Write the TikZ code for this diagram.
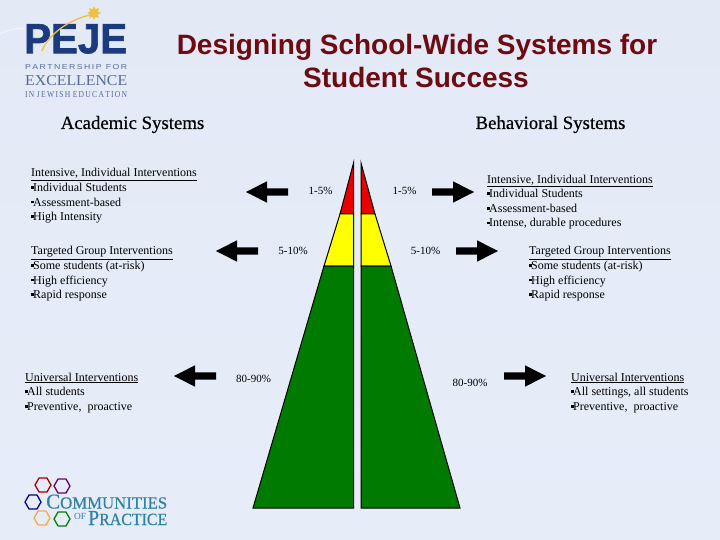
\documentclass[tikz,border=0pt]{standalone}
\usepackage{fontspec}
\setmainfont{Liberation Serif}
\newfontfamily\sansf{Liberation Sans}
\newfontfamily\heavysans[FakeBold=1.6]{Liberation Sans Bold}
\newfontfamily\semiserif[FakeBold=0.5]{Liberation Serif}
\usetikzlibrary{shapes.geometric}
\definecolor{bgtop}{HTML}{E3EAF6}
\definecolor{bgbot}{HTML}{E7ECF9}
\definecolor{titlered}{HTML}{6E0A12}
\definecolor{pejeblue}{HTML}{1C3A7E}
\definecolor{pejegold}{HTML}{F0C040}
\definecolor{copteal}{HTML}{2F80A8}
\definecolor{pgreen}{HTML}{007A00}
\definecolor{pyellow}{HTML}{FFFF00}
\definecolor{pred}{HTML}{E80000}
\newcommand{\blockarrow}[3]{% tail x, tip x, y
  \fill[black] ({#1},{#3-3.7}) -- ({(#1+#2)/2},{#3-3.7}) -- ({(#1+#2)/2},{#3-10.7}) -- (#2,#3)
    -- ({(#1+#2)/2},{#3+10.7}) -- ({(#1+#2)/2},{#3+3.7}) -- (#1,{#3+3.7}) -- cycle;}
\tikzset{
  x=1pt,y=-1pt,
  blocktext/.style={inner sep=0pt,anchor=north west,align=left,font=\fontsize{12}{14.6}\selectfont},
  heading/.style={inner sep=0pt,anchor=base,font=\semiserif\fontsize{18.8}{22}\selectfont},
  pct/.style={inner sep=0pt,font=\fontsize{11}{13}\selectfont},
  band/.style={draw=black,line width=1pt,line join=miter},
  ring/.style={regular polygon,regular polygon sides=6,draw,line width=1.3pt,minimum size=16pt,inner sep=0pt},
  logotext/.style={inner sep=0pt,anchor=west,text=pejeblue!75!white},
  coptext/.style={inner sep=0pt,anchor=base west,text=copteal},
  titletext/.style={inner sep=0pt,anchor=base,text=titlered,font=\sansf\bfseries\fontsize{28}{33}\selectfont}
}
\newcommand{\bul}{\raisebox{2.6pt}{\rule{2.6pt}{2.6pt}}\hspace{-0.6pt}}
\begin{document}
\begin{tikzpicture}
\useasboundingbox (0,0) rectangle (720,540);
\shade[top color=bgtop,bottom color=bgbot] (0,0) rectangle (720,540);
\draw[white,line width=0.8pt,opacity=.7] (0,34) .. controls (6,30) and (14,29) .. (25,28);
% PEJE logo
\node[inner sep=0pt,anchor=north west,text=pejeblue] (peje) at (24,24) {\resizebox{103pt}{29pt}{\heavysans PEJE}};
\draw[pejegold,line width=1.3pt] (42,51) .. controls (48,35) and (68,20) .. (90,15);
\node[star,star points=8,star point ratio=1.7,fill=pejegold,inner sep=0pt,minimum size=14pt] (pejestar) at (94,13) {};
\node[logotext] (lg1) at (25,67) {\resizebox{102pt}{5pt}{\sansf P\,A\,R\,T\,N\,E\,R\,S\,H\,I\,P\,\,\,F\,O\,R}};
\node[logotext] (lg2) at (25,81) {\resizebox{102pt}{10pt}{EXCELLENCE}};
\node[logotext] (lg3) at (25,95) {\resizebox{102pt}{6pt}{I\,N\,\,J\,E\,W\,I\,S\,H\,\,E\,D\,U\,C\,A\,T\,I\,O\,N}};
% Title
\node[titletext] (title1) at (417,54.5) {Designing School-Wide Systems for};
\node[titletext] (title2) at (416,87.5) {Student Success};
% Headings
\node[heading] (acad) at (132.5,129) {Academic Systems};
\node[heading] (beha) at (550.5,129) {Behavioral Systems};
% Pyramid
\path[band,fill=pred] (353.5,163) -- (353.5,214) -- (340,214) -- cycle;
\path[band,fill=pyellow] (340,214) -- (353.5,214) -- (353.5,266) -- (324,266) -- cycle;
\path[band,fill=pgreen] (324,266) -- (353.5,266) -- (353.5,508) -- (253,508) -- cycle;
\path[band,fill=pred] (361,163) -- (361,214) -- (375,214) -- cycle;
\path[band,fill=pyellow] (361,214) -- (375,214) -- (391,266) -- (361,266) -- cycle;
\path[band,fill=pgreen] (361,266) -- (391,266) -- (460,508) -- (361,508) -- cycle;
% Arrows
\blockarrow{288}{246}{192}
\blockarrow{258}{216}{251}
\blockarrow{216}{174}{376}
\blockarrow{432}{474}{192}
\blockarrow{456}{498}{251}
\blockarrow{504}{546}{376}
% Percent labels
\node[pct] (pa) at (320.5,191) {1-5\%};
\node[pct] (pb) at (404.5,191) {1-5\%};
\node[pct] (pc) at (293,251) {5-10\%};
\node[pct] (pd) at (425.5,251) {5-10\%};
\node[pct] (pe) at (253.5,379) {80-90\%};
\node[pct] (pf) at (470,382.5) {80-90\%};
% Text blocks
\node[blocktext] (a1) at (31,168.3) {\underline{Intensive, Individual Interventions}\\\bul Individual Students\\\bul Assessment-based\\\bul High Intensity};
\node[blocktext] (a2) at (31,246.3) {\underline{Targeted Group Interventions}\\\bul Some students (at-risk)\\\bul High efficiency\\\bul Rapid response};
\node[blocktext] (a3) at (25,372.5) {\underline{Universal Interventions}\\\bul All students\\\bul Preventive,\ \ proactive};
\node[blocktext] (b1) at (487,174.5) {\underline{Intensive, Individual Interventions}\\\bul Individual Students\\\bul Assessment-based\\\bul Intense, durable procedures};
\node[blocktext] (b2) at (529,246.3) {\underline{Targeted Group Interventions}\\\bul Some students (at-risk)\\\bul High efficiency\\\bul Rapid response};
\node[blocktext] (b3) at (571,372.5) {\underline{Universal Interventions}\\\bul All settings, all students\\\bul Preventive,\ \ proactive};
% Communities of Practice logo
\node[ring,draw=red!65!black] (r1) at (43,485) {};
\node[ring,draw=violet!80!black] (r2) at (62,486) {};
\node[ring,draw=blue!60!black] (r3) at (33,502) {};
\node[ring,draw=orange!70] (r4) at (42,518) {};
\node[ring,draw=green!50!black] (r5) at (62,519) {};
\node[coptext] (c1) at (46,508.5) {\resizebox{121pt}{14pt}{\semiserif C{\fontsize{8}{8}\selectfont OMMUNITIES}}};
\node[coptext] (c2) at (74,519) {\resizebox{12pt}{!}{\fontsize{7}{7}\selectfont OF}};
\node[coptext] (c3) at (88,525) {\resizebox{79pt}{14pt}{\semiserif P{\fontsize{8}{8}\selectfont RACTICE}}};
\end{tikzpicture}
\end{document}
